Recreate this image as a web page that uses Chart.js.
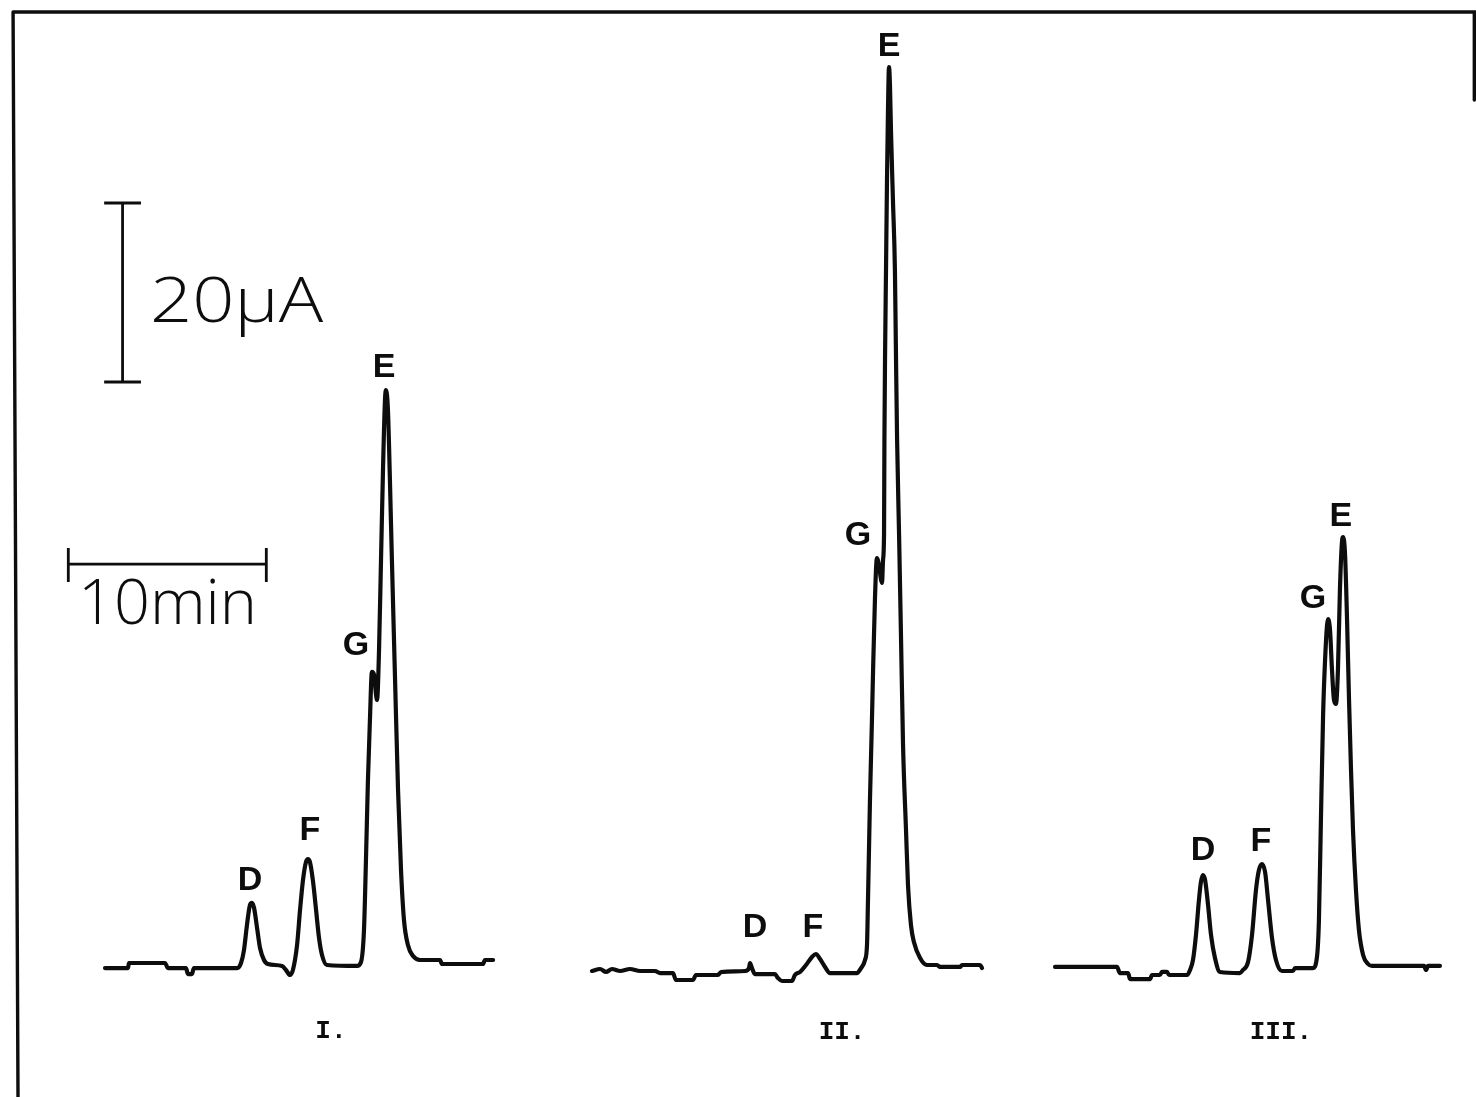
<!DOCTYPE html>
<html>
<head>
<meta charset="utf-8">
<script src="https://cdn.jsdelivr.net/npm/chart.js@4.4.1/dist/chart.umd.min.js"></script>
<style>
  html, body { margin: 0; padding: 0; background: #ffffff; overflow: hidden; }
  #wrap { width: 1476px; height: 1097px; }
</style>
</head>
<body>
<div id="wrap"><canvas id="c" width="1476" height="1097"></canvas></div>
<script>
// ---------- DATA (time in min from start of each run, current in µA above baseline) ----------
const runNames = ['I.', 'II.', 'III.'];
const peakNames = ['D', 'F', 'G', 'E'];

const timeI = [0, 1.16, 1.21, 3.03, 3.18, 4.09, 4.19, 4.39, 4.49, 6.67, 6.87, 7.02, 7.17, 7.32, 7.42, 7.53, 7.68, 7.83, 8.03, 8.23, 8.94, 9.14, 9.34, 9.49, 9.70, 9.85, 10.00, 10.15, 10.25, 10.35, 10.51, 10.66, 10.81, 10.96, 11.21, 12.73, 12.93, 13.08, 13.18, 13.28, 13.38, 13.48, 13.59, 13.69, 13.74, 13.84, 13.94, 14.04, 14.14, 14.19, 14.29, 14.39, 14.49, 14.65, 14.80, 14.95, 15.10, 15.30, 15.56, 15.91, 16.92, 17.02, 19.09, 19.19, 19.60];
const currentI = [0.22, 0.22, 0.78, 0.78, 0.22, 0.22, -0.45, -0.45, 0.22, 0.22, 0.78, 2.23, 5.03, 7.26, 7.49, 6.93, 4.69, 2.46, 1.12, 0.67, 0.45, 0, -0.56, 0, 2.79, 6.70, 10.06, 12.07, 12.40, 12.07, 9.83, 6.70, 3.58, 1.68, 0.56, 0.45, 0.89, 4.47, 12.29, 21.23, 27.93, 33.30, 32.96, 30.73, 30.17, 35.75, 45.81, 55.87, 63.69, 64.80, 62.57, 54.75, 45.81, 32.40, 20.11, 11.17, 5.59, 2.79, 1.56, 1.12, 1.12, 0.67, 0.67, 1.12, 1.12];

const timeII = [0.10, 0.51, 0.81, 1.11, 1.52, 2.02, 2.53, 3.28, 3.54, 4.19, 4.34, 5.20, 5.35, 6.46, 6.62, 7.83, 8.03, 8.08, 8.18, 8.33, 9.34, 9.49, 9.70, 10.20, 10.35, 10.61, 10.91, 11.21, 11.41, 11.62, 11.87, 12.12, 13.48, 13.69, 13.89, 13.99, 14.04, 14.09, 14.14, 14.24, 14.29, 14.39, 14.49, 14.60, 14.70, 14.75, 14.80, 14.85, 14.87, 14.90, 14.95, 15.00, 15.05, 15.10, 15.15, 15.20, 15.30, 15.40, 15.45, 15.51, 15.61, 15.71, 15.81, 15.96, 16.06, 16.21, 16.36, 16.67, 17.02, 17.53, 17.68, 18.69, 18.79, 19.70, 19.80];
const currentII = [-0.11, 0.11, -0.22, 0.11, -0.11, 0.11, -0.11, -0.11, -0.34, -0.34, -1.12, -1.12, -0.56, -0.56, -0.22, -0.11, 0.22, 0.78, 0.22, -0.45, -0.45, -0.89, -1.23, -1.23, -0.56, -0.22, 0.56, 1.45, 1.79, 1.23, 0.34, -0.34, -0.34, 0.22, 1.12, 2.79, 7.82, 13.41, 18.99, 27.93, 32.85, 41.34, 46.03, 45.14, 43.58, 43.24, 45.81, 48.60, 59.22, 68.16, 78.21, 88.27, 96.09, 100.89, 98.88, 93.85, 86.03, 78.21, 69.27, 59.22, 48.60, 36.87, 25.14, 15.64, 9.50, 5.03, 3.13, 1.34, 0.56, 0.56, 0.34, 0.34, 0.56, 0.56, 0.22];

const timeIII = [0, 3.13, 3.28, 3.69, 3.79, 4.80, 4.90, 5.30, 5.40, 5.66, 5.76, 6.67, 6.82, 6.97, 7.12, 7.27, 7.37, 7.47, 7.58, 7.73, 7.88, 8.08, 8.33, 9.34, 9.49, 9.75, 9.95, 10.15, 10.30, 10.45, 10.61, 10.76, 10.96, 11.16, 11.46, 12.02, 12.12, 13.03, 13.23, 13.33, 13.43, 13.54, 13.64, 13.74, 13.79, 13.89, 13.99, 14.09, 14.19, 14.29, 14.39, 14.49, 14.55, 14.65, 14.75, 14.85, 14.95, 15.05, 15.20, 15.35, 15.56, 15.81, 16.01, 18.64, 18.74, 18.84, 19.44];
const currentIII = [0.34, 0.34, -0.34, -0.34, -1.01, -1.01, -0.56, -0.56, -0.22, -0.22, -0.56, -0.56, 0, 1.12, 3.91, 7.82, 9.83, 10.61, 10.06, 7.26, 3.91, 1.34, -0.22, -0.34, 0, 0.89, 3.91, 8.94, 11.17, 11.84, 10.95, 7.82, 3.58, 1.12, -0.11, -0.11, 0.22, 0.22, 1.45, 5.59, 16.76, 28.49, 34.64, 38.55, 39.22, 37.99, 33.52, 30.17, 29.72, 33.52, 42.46, 47.71, 48.38, 46.37, 39.11, 30.17, 22.35, 15.64, 8.94, 4.47, 1.68, 0.67, 0.45, 0.45, 0, 0.45, 0.45];

// peak label anchors (min, µA) in the order of peakNames
const labelTimeI = [7.32, 10.35, 12.68, 14.09];
const labelCurrentI = [10.0, 15.6, 36.2, 67.3];
const labelTimeII = [8.33, 11.26, 13.54, 15.10];
const labelCurrentII = [4.7, 4.7, 48.5, 103.2];
const labelTimeIII = [7.47, 10.40, 13.03, 14.44];
const labelCurrentIII = [13.3, 14.3, 41.5, 50.7];

// run label anchors (min, µA)
const runLabelTime = [11.41, 12.73, 11.41];
const runLabelCurrent = [-6.85, -6.95, -7.0];

// scale bars
const scaleBarMinutes = 10;
const scaleBarMicroAmps = 20;
const scaleBarText = ['20\u00B5A', '10min'];

// ---------- LAYOUT (recorder-paper geometry) ----------
const PX_PER_MIN = 19.8;
const PX_PER_UA = 8.95;
const W = 1476, H = 1097, BASE_PX = 970;
const runStartPx = [105, 590, 1055];
const yMin = -(H - BASE_PX) / PX_PER_UA;
const yMax = BASE_PX / PX_PER_UA;
const paperMax = W / PX_PER_MIN;

function pts(t, v) { return t.map((x, i) => ({ x: x, y: v[i] })); }

const ink = '#0d0d0d';
const traceStyle = {
  borderColor: ink, borderWidth: 4.2, pointRadius: 0, fill: false,
  cubicInterpolationMode: 'monotone', borderJoinStyle: 'round', borderCapStyle: 'round'
};
const barStyle = {
  borderColor: ink, borderWidth: 2.8, pointRadius: 0, fill: false, tension: 0,
  spanGaps: false, borderCapStyle: 'butt', xAxisID: 'x'
};

// scale bar geometry on paper axis (min, µA)
const ampBarX = 6.19, ampBarBottom = 65.7, ampCapHalf = 0.93;
const timeBarX0 = 3.45, timeBarY = 45.36, tickUp = 1.8, tickDown = 2.0;

const ampBar = [
  { x: ampBarX, y: ampBarBottom }, { x: ampBarX, y: ampBarBottom + scaleBarMicroAmps }, { x: null, y: null },
  { x: ampBarX - ampCapHalf, y: ampBarBottom + scaleBarMicroAmps }, { x: ampBarX + ampCapHalf, y: ampBarBottom + scaleBarMicroAmps }, { x: null, y: null },
  { x: ampBarX - ampCapHalf, y: ampBarBottom }, { x: ampBarX + ampCapHalf, y: ampBarBottom }
];
const timeBar = [
  { x: timeBarX0, y: timeBarY }, { x: timeBarX0 + scaleBarMinutes, y: timeBarY }, { x: null, y: null },
  { x: timeBarX0, y: timeBarY + tickUp }, { x: timeBarX0, y: timeBarY - tickDown }, { x: null, y: null },
  { x: timeBarX0 + scaleBarMinutes, y: timeBarY + tickUp }, { x: timeBarX0 + scaleBarMinutes, y: timeBarY - tickDown }
];
const frameTop = 107.04;
const frame = [
  { x: 0.91, y: yMin }, { x: 0.66, y: frameTop }, { x: paperMax, y: frameTop }, { x: null, y: null },
  { x: 74.46, y: frameTop }, { x: 74.46, y: 97.2 }
];

// ---------- TEXT PLUGIN ----------
const textPlugin = {
  id: 'chromText',
  afterDatasetsDraw(chart) {
    const c = chart.ctx;
    const yS = chart.scales.y;
    c.save();
    c.fillStyle = ink;
    c.textAlign = 'center';
    c.textBaseline = 'middle';
    const runs = [
      ['xI', labelTimeI, labelCurrentI],
      ['xII', labelTimeII, labelCurrentII],
      ['xIII', labelTimeIII, labelCurrentIII]
    ];
    runs.forEach(([ax, lt, lc], r) => {
      const xS = chart.scales[ax];
      c.font = 'bold 34px "Liberation Sans", Arial, sans-serif';
      peakNames.forEach((n, i) => {
        c.fillText(n, xS.getPixelForValue(lt[i]), yS.getPixelForValue(lc[i]));
      });
      c.font = 'bold 26px "Liberation Mono", "Courier New", monospace';
      c.fillText(runNames[r], xS.getPixelForValue(runLabelTime[r]), yS.getPixelForValue(runLabelCurrent[r]));
    });
    // scale-bar captions, stretched to the lettering-guide width
    const xP = chart.scales.x;
    const captions = [
      { text: scaleBarText[0], x: 7.58, y: 72.4, w: 173 },
      { text: scaleBarText[1], x: 3.94, y: 38.7, w: 179 }
    ];
    c.textAlign = 'left';
    c.textBaseline = 'alphabetic';
    c.font = '300 63px "Open Sans", "Lato", sans-serif';
    captions.forEach(cp => {
      const px = xP.getPixelForValue(cp.x), py = yS.getPixelForValue(cp.y);
      const mw = c.measureText(cp.text).width;
      c.save();
      c.translate(px, py);
      c.scale(cp.w / mw, 1);
      c.fillText(cp.text, 0, 0);
      c.restore();
    });
    c.restore();
  }
};

function runAxis(startPx) {
  const mn = -startPx / PX_PER_MIN;
  return { type: 'linear', axis: 'x', position: 'bottom', display: false, min: mn, max: mn + paperMax };
}

new Chart(document.getElementById('c'), {
  type: 'line',
  data: {
    datasets: [
      Object.assign({ label: 'Run I', data: pts(timeI, currentI), xAxisID: 'xI' }, traceStyle),
      Object.assign({ label: 'Run II', data: pts(timeII, currentII), xAxisID: 'xII' }, traceStyle),
      Object.assign({ label: 'Run III', data: pts(timeIII, currentIII), xAxisID: 'xIII' }, traceStyle),
      Object.assign({ label: '20 µA', data: ampBar }, barStyle),
      Object.assign({ label: '10 min', data: timeBar }, barStyle),
      Object.assign({ label: 'frame', data: frame }, barStyle, { borderWidth: 3.4, borderJoinStyle: 'round' })
    ]
  },
  options: {
    responsive: false,
    animation: false,
    parsing: true,
    layout: { padding: 0 },
    plugins: { legend: { display: false }, tooltip: { enabled: false } },
    scales: {
      x: { type: 'linear', display: false, min: 0, max: paperMax },
      xI: runAxis(runStartPx[0]),
      xII: runAxis(runStartPx[1]),
      xIII: runAxis(runStartPx[2]),
      y: { type: 'linear', display: false, min: yMin, max: yMax }
    }
  },
  plugins: [textPlugin]
});
</script>
</body>
</html>
